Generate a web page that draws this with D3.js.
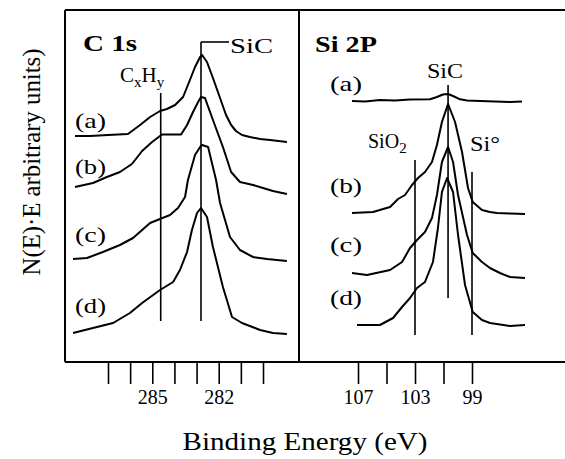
<!DOCTYPE html>
<html lang="en">
<head>
    <meta charset="UTF-8">
    <title>XPS C 1s and Si 2P spectra</title>
    <script src="https://d3js.org/d3.v7.min.js"></script>
    <style>
        body { margin: 0; background: #fff; }
        svg text { font-family: "Times New Roman", "Liberation Serif", Times, serif; fill: #000; }
        .curve { fill: none; stroke: #000; stroke-width: 2; stroke-linejoin: round; }
        .ref { stroke: #000; stroke-width: 1.6; }
        .frame { stroke: #000; stroke-width: 2; }
    </style>
</head>
<body>
<script>
    // C 1s spectra: binding energy (eV) and intensity (arbitrary units)
    const c1sA = [[288.49,226],[287.81,226],[287.00,227],[286.10,228],[285.55,237],[285.10,245],[284.65,251],[284.34,253],[283.97,257],[283.61,265],[283.30,282],[283.07,295],[282.84,305],[282.75,307],[282.53,300],[282.26,284],[281.94,264],[281.67,247],[281.44,237],[281.22,231],[280.95,227],[280.59,225],[280.13,223],[279.68,222],[278.92,220]];
    const c1sB = [[288.49,175],[287.68,179],[287.05,185],[286.46,190],[285.92,198],[285.46,211],[285.01,220],[284.65,226],[284.56,227.5],[283.70,227.5],[283.43,237],[283.16,250],[282.93,260],[282.80,265],[282.62,264],[282.26,242],[281.81,215],[281.44,190],[281.04,180],[280.45,177],[280.00,174],[279.55,171],[278.92,168]];
    const c1sC = [[288.58,103],[287.95,104],[287.23,110],[286.46,117],[285.87,124],[285.46,132],[285.10,139],[284.65,143],[284.20,147],[283.84,154],[283.52,165],[283.39,182],[283.07,207],[282.84,215],[282.75,217],[282.48,215],[282.12,182],[281.94,159],[281.49,125],[281.04,112],[280.45,105],[279.82,103],[278.92,101]];
    const c1sD = [[288.58,29],[287.68,34],[286.77,39],[286.01,49],[285.46,59],[284.65,72],[284.06,80],[283.75,92],[283.43,110],[283.21,132],[282.98,149],[282.80,154],[282.53,145],[282.26,115],[281.81,75],[281.40,45],[280.95,39],[280.13,32],[279.55,29],[278.92,28]];

    // Si 2P spectra
    const si2pA = [[107.42,261],[106.51,260.5],[105.46,262],[104.40,261.5],[103.35,262.5],[101.95,262.7],[101.46,265],[101.04,267.5],[100.68,268],[100.33,266],[99.84,262.7],[99.35,261.5],[98.44,261],[97.39,260.5],[96.33,260],[95.49,260.5]];
    const si2pB = [[107.42,149],[105.95,150],[104.75,155],[104.19,163],[103.70,167],[103.21,177],[102.79,184],[102.30,190],[101.81,200],[101.46,217],[101.11,240],[100.68,258],[100.19,240],[99.70,210],[99.28,174],[98.95,160],[98.30,152],[97.74,150],[97.25,149],[96.33,148.5],[95.28,148]];
    const si2pC = [[107.42,89],[106.37,87],[104.75,92],[103.91,100],[103.35,114],[102.86,122],[102.30,130],[101.81,144],[101.46,167],[101.11,200],[100.68,215],[100.33,200],[99.98,167],[99.35,127],[98.95,109],[98.30,100],[97.74,94],[97.04,89],[96.33,85],[95.28,84]];
    const si2pD = [[107.07,37],[105.46,37],[104.54,44],[103.91,55],[103.35,64],[102.86,74],[102.30,80],[101.74,100],[101.39,134],[101.11,170],[100.75,184],[100.33,170],[99.98,127],[99.49,77],[98.95,50],[98.30,42],[97.74,39],[96.33,36],[95.28,37]];

    const c1sTicks = [287, 286, 285, 284, 283, 282, 281, 280];
    const c1sLabels = [285, 282];
    const si2pTicks = [107, 105, 103, 101, 99];
    const si2pLabels = [107, 103, 99];

    // reference lines: [energy, from, to]
    const c1sRefs = [[284.62, 41, 269], [282.80, 41, 320]];
    const si2pRefs = [[103.0, 27, 202], [100.68, 64, 277], [99.0, 27, 190]];

    const width = 565, height = 459;
    const frameTop = 10, frameBottom = 362, frameLeft = 65, frameMid = 299;
    const serif = '"Times New Roman", "Liberation Serif", Times, serif';

    const svg = d3.select('body').append('svg')
        .attr('width', width)
        .attr('height', height);

    const xL = d3.scaleLinear().domain([287, 280]).range([108, 263]);
    const xR = d3.scaleLinear().domain([107, 99]).range([358, 472]);
    const y = d3.scaleLinear().domain([0, 352]).range([frameBottom, frameTop]);

    // frame
    svg.append('line').attr('class', 'frame').attr('x1', frameLeft).attr('x2', width).attr('y1', frameTop).attr('y2', frameTop);
    svg.append('line').attr('class', 'frame').attr('x1', frameLeft).attr('x2', width).attr('y1', frameBottom).attr('y2', frameBottom);
    svg.append('line').attr('class', 'frame').attr('x1', frameLeft).attr('x2', frameLeft).attr('y1', frameTop).attr('y2', frameBottom);
    svg.append('line').attr('class', 'frame').attr('x1', frameMid).attr('x2', frameMid).attr('y1', frameTop).attr('y2', frameBottom);

    // axes
    function drawAxis(scale, ticks, labels) {
        const axis = d3.axisBottom(scale)
            .tickValues(ticks)
            .tickSize(22)
            .tickPadding(6)
            .tickFormat(d => labels.includes(d) ? d : '');
        const g = svg.append('g')
            .attr('transform', `translate(0,${frameBottom})`)
            .call(axis);
        g.select('.domain').remove();
        g.selectAll('line').attr('stroke', '#000').attr('stroke-width', 1.6);
        g.selectAll('text')
            .style('font-family', serif)
            .style('font-size', '20px')
            .attr('fill', '#000');
    }
    drawAxis(xL, c1sTicks, c1sLabels);
    drawAxis(xR, si2pTicks, si2pLabels);

    // spectra
    const lineL = d3.line().x(d => xL(d[0])).y(d => y(d[1]));
    const lineR = d3.line().x(d => xR(d[0])).y(d => y(d[1]));
    [c1sA, c1sB, c1sC, c1sD].forEach(s => {
        svg.append('path').attr('class', 'curve').attr('d', lineL(s));
    });
    [si2pA, si2pB, si2pC, si2pD].forEach(s => {
        svg.append('path').attr('class', 'curve').attr('d', lineR(s));
    });

    // reference lines
    c1sRefs.forEach(r => {
        svg.append('line').attr('class', 'ref')
            .attr('x1', xL(r[0])).attr('x2', xL(r[0]))
            .attr('y1', y(r[1])).attr('y2', y(r[2]));
    });
    si2pRefs.forEach(r => {
        svg.append('line').attr('class', 'ref')
            .attr('x1', xR(r[0])).attr('x2', xR(r[0]))
            .attr('y1', y(r[1])).attr('y2', y(r[2]));
    });
    // SiC bracket on C 1s
    svg.append('line').attr('class', 'ref')
        .attr('x1', xL(282.80)).attr('x2', 229)
        .attr('y1', y(320)).attr('y2', y(320));

    // text helper
    function label(x, yy, str, size, len, bold) {
        const t = svg.append('text')
            .attr('x', x).attr('y', yy)
            .style('font-family', serif)
            .style('font-size', size + 'px')
            .style('font-weight', bold ? 'bold' : 'normal')
            .text(str);
        if (len) t.attr('textLength', len).attr('lengthAdjust', 'spacingAndGlyphs');
        return t;
    }

    label(83, 51, 'C 1s', 23, 54, true);
    label(315, 52, 'Si 2P', 23, 62, true);
    label(230, 53, 'SiC', 21, 43);
    label(427, 78, 'SiC', 20, 36);
    label(470, 151, 'Si°', 20, 30);

    const cxhy = svg.append('text').attr('x', 120).attr('y', 82)
        .style('font-family', serif).style('font-size', '21px');
    cxhy.append('tspan').text('C');
    cxhy.append('tspan').attr('dy', 5).style('font-size', '15px').text('x');
    cxhy.append('tspan').attr('dy', -5).text('H');
    cxhy.append('tspan').attr('dy', 5).style('font-size', '15px').text('y');

    const sio2 = svg.append('text').attr('x', 368).attr('y', 148)
        .style('font-family', serif).style('font-size', '20px');
    sio2.append('tspan').text('SiO');
    sio2.append('tspan').attr('dy', 5).style('font-size', '15px').text('2');

    const tagsL = [['(a)', 128], ['(b)', 174], ['(c)', 242], ['(d)', 313]];
    const tagsR = [['(a)', 91], ['(b)', 193], ['(c)', 252], ['(d)', 305]];
    tagsL.forEach(t => label(75, t[1], t[0], 22, 31));
    tagsR.forEach(t => label(330, t[1], t[0], 22, 32));

    // axis titles
    svg.append('text')
        .attr('x', 305).attr('y', 450)
        .attr('text-anchor', 'middle')
        .attr('textLength', 245).attr('lengthAdjust', 'spacingAndGlyphs')
        .style('font-family', serif)
        .style('font-size', '26px')
        .text('Binding Energy (eV)');

    svg.append('text')
        .attr('transform', 'translate(40,162) rotate(-90)')
        .attr('text-anchor', 'middle')
        .attr('textLength', 227).attr('lengthAdjust', 'spacingAndGlyphs')
        .style('font-family', serif)
        .style('font-size', '25px')
        .text('N(E)·E arbitrary units)');
</script>
</body>
</html>
